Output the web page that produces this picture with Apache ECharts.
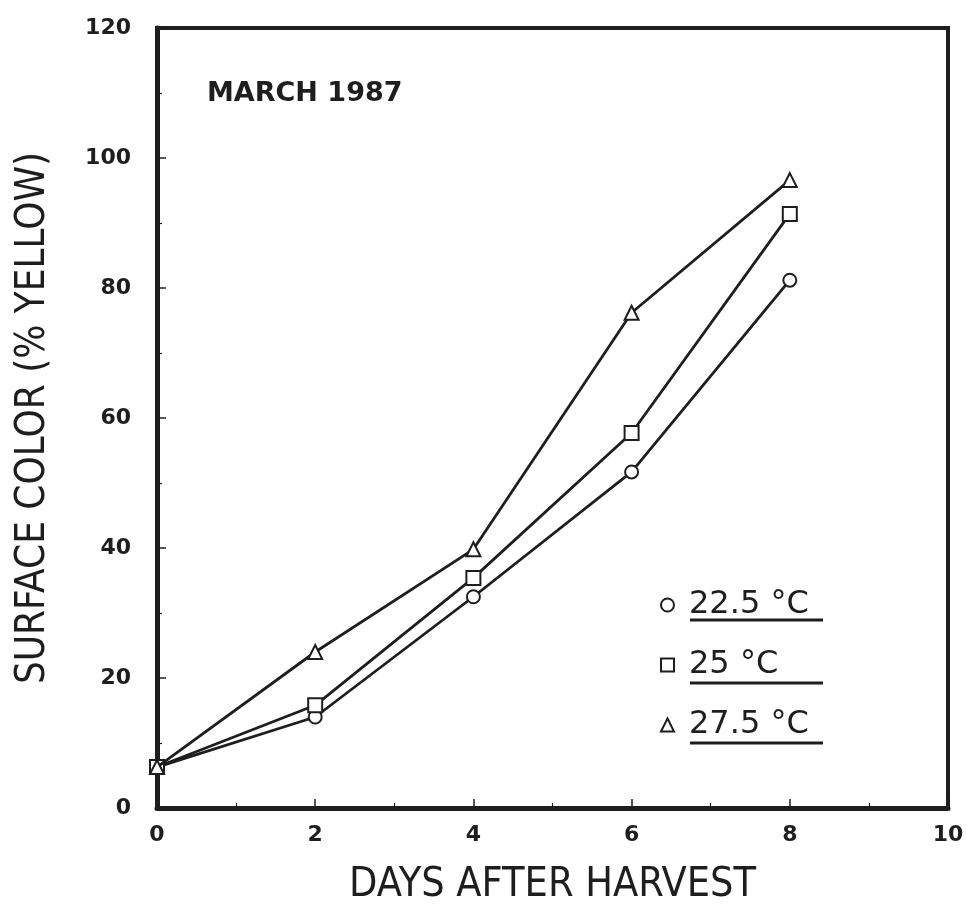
<!DOCTYPE html>
<html>
<head>
<meta charset="utf-8">
<script src="https://cdn.jsdelivr.net/npm/echarts@6/dist/echarts.min.js"></script>
<style>
html,body{margin:0;padding:0;background:#fff;}
#chart{width:967px;height:904px;}
</style>
</head>
<body>
<div id="chart"></div>
<script>
const days = [0, 2, 4, 6, 8];
const seriesNames = ['22.5 °C', '25 °C', '27.5 °C'];
const temp225 = [6.3, 14.0, 32.5, 51.7, 81.2];
const temp25 = [6.3, 15.8, 35.4, 57.7, 91.4];
const temp275 = [6.3, 24.0, 39.8, 76.2, 96.6];
const xTicks = [0, 2, 4, 6, 8, 10];
const yTicks = [0, 20, 40, 60, 80, 100, 120];
const annotation = 'MARCH 1987';

const ink = '#1e1e1e';
const chart = echarts.init(document.getElementById('chart'), null, {renderer: 'canvas'});

function pairs(vals) { return days.map((d, i) => [d, vals[i]]); }
const symbols = ['circle', 'rect', 'triangle'];
const sizes = [13, 14, 14];
const allData = [temp225, temp25, temp275];

const series = allData.map((vals, i) => ({
  name: seriesNames[i],
  type: 'line',
  data: pairs(vals),
  symbol: symbols[i],
  symbolSize: sizes[i],
  showAllSymbol: true,
  lineStyle: {color: ink, width: 2.8},
  itemStyle: {color: '#fff', borderColor: ink, borderWidth: 2},
  z: 3 + i,
  animation: false
}));

const option = {
  animation: false,
  backgroundColor: '#fff',
  grid: {left: 157, right: 19, top: 28, bottom: 96, containLabel: false, outerBoundsMode: 'none',
    show: true, borderColor: ink, borderWidth: 4, backgroundColor: 'transparent'},
  xAxis: {
    type: 'value', min: 0, max: 10, interval: 2,
    axisLine: {show: true, lineStyle: {color: ink, width: 5}},
    axisTick: {show: true, inside: true, length: 9, lineStyle: {color: ink, width: 1.5}},
    minorTick: {show: true, splitNumber: 2, length: 5, lineStyle: {color: ink, width: 1.2}},
    splitLine: {show: false},
    axisLabel: {color: ink, fontSize: 22, fontWeight: 'bold', fontFamily: 'DejaVu Sans', margin: 16,
      formatter: v => xTicks.includes(v) ? String(v) : ''},
    name: 'DAYS AFTER HARVEST', nameLocation: 'middle', nameGap: 57,
    nameTextStyle: {color: ink, fontSize: 41, fontFamily: 'Liberation Sans Narrow, DejaVu Sans Condensed, Liberation Sans'}
  },
  yAxis: {
    type: 'value', min: 0, max: 120, interval: 20,
    axisLine: {show: true, lineStyle: {color: ink, width: 5}},
    axisTick: {show: true, inside: true, length: 9, lineStyle: {color: ink, width: 1.5}},
    minorTick: {show: true, splitNumber: 2, length: 5, lineStyle: {color: ink, width: 1.2}},
    splitLine: {show: false},
    axisLabel: {color: ink, fontSize: 22, fontWeight: 'bold', fontFamily: 'DejaVu Sans', margin: 26,
      formatter: v => yTicks.includes(v) ? String(v) : ''},
    name: 'SURFACE COLOR (% YELLOW)', nameLocation: 'middle', nameGap: 103, nameRotate: 90,
    nameTextStyle: {color: ink, fontSize: 40, fontFamily: 'Liberation Sans Narrow, DejaVu Sans Condensed, Liberation Sans'}
  },
  legend: {
    orient: 'vertical', left: 655, top: 584, itemGap: 28, itemWidth: 13, itemHeight: 13,
    data: seriesNames.map((n, i) => ({name: n, icon: symbols[i],
      itemStyle: {color: '#fff', borderColor: ink, borderWidth: 2}})),
    textStyle: {color: ink, fontSize: 32, fontFamily: 'DejaVu Sans', padding: [0, 0, 0, 10]},
    itemStyle: {color: '#fff', borderColor: ink, borderWidth: 2},
    lineStyle: {opacity: 0},
    selectedMode: false
  },
  graphic: [
    {type: 'text', left: 207, top: 80, style: {text: annotation, fill: ink, font: 'bold 27px DejaVu Sans'}},
    {type: 'line', shape: {x1: 690, y1: 620, x2: 823, y2: 620}, style: {stroke: ink, lineWidth: 3}},
    {type: 'line', shape: {x1: 690, y1: 683, x2: 823, y2: 683}, style: {stroke: ink, lineWidth: 3}},
    {type: 'line', shape: {x1: 690, y1: 743, x2: 823, y2: 743}, style: {stroke: ink, lineWidth: 3}}
  ],
  series: series
};
chart.setOption(option);
</script>
</body>
</html>
